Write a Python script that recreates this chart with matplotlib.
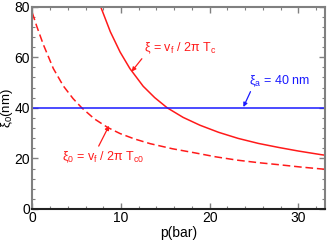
import matplotlib
matplotlib.use("Agg")
import matplotlib.pyplot as plt
from matplotlib.ticker import MultipleLocator

plt.rcParams['font.family'] = ['Liberation Sans', 'DejaVu Sans']
plt.rcParams['mathtext.fontset'] = 'custom'
plt.rcParams['mathtext.rm'] = 'Liberation Sans'
plt.rcParams['mathtext.it'] = 'Liberation Sans'
plt.rcParams['mathtext.default'] = 'regular'

# values
p_xi = [7.7, 8.8, 9.9, 11.0, 12.5, 13.8, 15.2, 17.0, 18.9, 21.0, 23.2, 25.5, 27.8, 30.0, 32.5, 33.0]
xi = [80.0, 70.0, 62.0, 55.5, 48.5, 44.0, 40.0, 36.2, 33.1, 30.3, 27.9, 25.9, 24.3, 22.9, 21.5, 21.25]

p_xi0 = [0.0, 0.5, 1.24, 2.37, 3.5, 4.6, 5.57, 7.0, 8.5, 9.9, 11.5, 13.3, 15.8, 18.3, 20.7, 23.1, 25.5, 27.8, 30.2, 32.5, 33.0]
xi0 = [77.5, 72.2, 65.0, 55.5, 48.6, 43.6, 40.0, 35.6, 32.2, 29.8, 27.7, 25.8, 23.8, 22.2, 20.6, 19.3, 18.3, 17.5, 16.6, 15.85, 15.7]

xi_a = 40
p_range = [0, 33]

red = '#ff1a1a'
blue = '#1a1aff'
gray = '#808080'

fig = plt.figure(figsize=(3.27, 2.41), dpi=100)
ax = fig.add_axes([32.3 / 327, 1 - 209 / 241, (325 - 32.3) / 327, (209 - 6.5) / 241])

ax.plot(p_xi, xi, color=red, lw=1.1)
ax.plot(p_xi0, xi0, color=red, lw=1.1, dashes=(5, 2.5))
ax.plot(p_range, [xi_a, xi_a], color=blue, lw=1.1)

ax.set_xlim(0, 33)
ax.set_ylim(0, 80)
ax.xaxis.set_major_locator(MultipleLocator(10))
ax.xaxis.set_minor_locator(MultipleLocator(2))
ax.yaxis.set_major_locator(MultipleLocator(20))
ax.yaxis.set_minor_locator(MultipleLocator(4))
ax.tick_params(which='both', direction='in', top=True, right=True,
               color=gray, labelsize=10, pad=1.5)
ax.tick_params(which='major', length=4, width=1)
ax.tick_params(which='minor', length=2.5, width=0.8)
for s in ['left', 'top', 'right']:
    ax.spines[s].set_color(gray)
    ax.spines[s].set_linewidth(1.5)
ax.spines['bottom'].set_color('#222222')
ax.spines['bottom'].set_linewidth(1.5)

ax.set_xlabel('p(bar)', fontsize=10, labelpad=1)
ax.set_ylabel(r'$\xi_0$(nm)', fontsize=9.5, labelpad=0)

arrow = dict(arrowstyle='-|>', lw=0.9, mutation_scale=6, shrinkA=0, shrinkB=0)
ax.annotate(r'$\xi$ = v$_f$ / 2$\pi$ T$_c$', xy=(11.2, 54.3), xytext=(12.6, 63.5),
            color=red, fontsize=9, va='center', ha='left',
            arrowprops=dict(arrow, color=red, relpos=(0, 0)))
ax.annotate(r'$\xi_a$ = 40 nm', xy=(23.8, 40.3), xytext=(24.4, 50.5),
            color=blue, fontsize=9, va='center', ha='left',
            arrowprops=dict(arrow, color=blue, relpos=(0.05, 0)))
ax.annotate(r'$\xi_0$ = v$_f$ / 2$\pi$ T$_{c0}$', xy=(8.65, 32.9), xytext=(3.3, 20.6),
            color=red, fontsize=9, va='center', ha='left',
            arrowprops=dict(arrow, color=red, relpos=(0.45, 1.2)))

fig.savefig('out.png', dpi=100)
